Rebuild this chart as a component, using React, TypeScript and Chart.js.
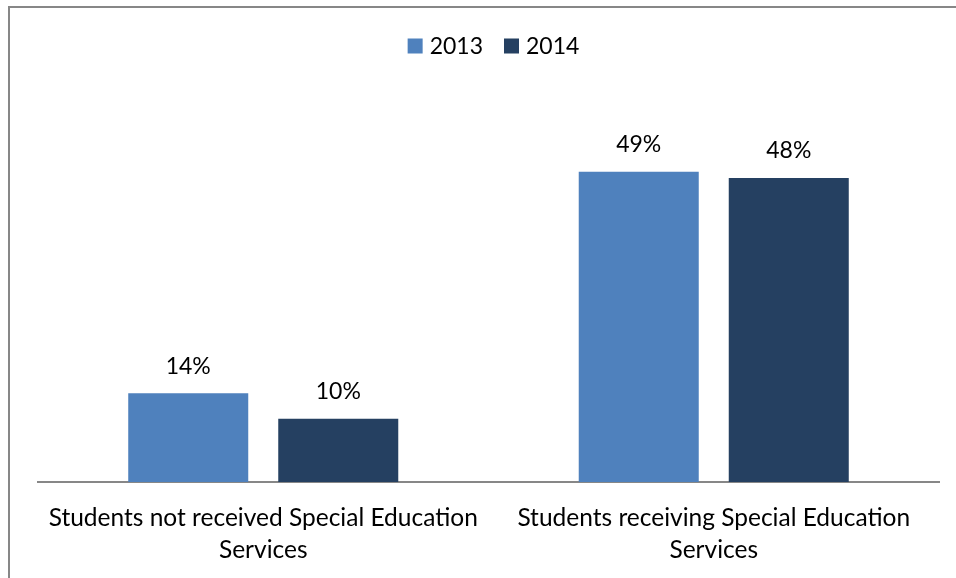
import React, { useEffect, useRef } from "react";
import { Chart, registerables } from "chart.js";

Chart.register(...registerables);

const categories: string[][] = [
  ["Students not received Special Education", "Services"],
  ["Students receiving Special Education", "Services"],
];
const seriesNames = ["2013", "2014"];
const values2013 = [14, 49];
const values2014 = [10, 48];
const colors = ["#4F81BD", "#254061"];

const FONT = "Lato, 'Open Sans', sans-serif";

const labelsPlugin = {
  id: "barLabels",
  afterDatasetsDraw(chart: any) {
    const ctx = chart.ctx;
    ctx.save();
    ctx.fillStyle = "#000";
    ctx.font = `23px ${FONT}`;
    ctx.textAlign = "center";
    ctx.textBaseline = "middle";
    chart.data.datasets.forEach((ds: any, i: number) => {
      const meta = chart.getDatasetMeta(i);
      meta.data.forEach((bar: any, j: number) => {
        ctx.fillText(`${ds.data[j]}%`, bar.x, bar.y - 27);
      });
    });
    ctx.restore();
  },
};

const legendPlugin = {
  id: "customLegend",
  afterDraw(chart: any) {
    const ctx = chart.ctx;
    ctx.save();
    ctx.font = `23px ${FONT}`;
    ctx.textBaseline = "middle";
    ctx.textAlign = "left";
    const box = 15;
    const gap = 7;
    const spacing = 21;
    const widths = seriesNames.map((n) => box + gap + ctx.measureText(n).width);
    const total = widths.reduce((a, b) => a + b, 0) + spacing * (widths.length - 1);
    let x = 493.5 - total / 2;
    const cy = 46;
    seriesNames.forEach((n, i) => {
      ctx.fillStyle = colors[i];
      ctx.fillRect(x, cy - box / 2, box, box);
      ctx.fillStyle = "#000";
      ctx.fillText(n, x + box + gap, cy + 1);
      x += widths[i] + spacing;
    });
    ctx.restore();
  },
};

export default function App() {
  const ref = useRef<HTMLCanvasElement | null>(null);
  useEffect(() => {
    if (!ref.current) return;
    const chart = new Chart(ref.current, {
      type: "bar",
      data: {
        labels: categories as any,
        datasets: [
          { label: seriesNames[0], data: values2013, backgroundColor: colors[0] },
          { label: seriesNames[1], data: values2014, backgroundColor: colors[1] },
        ],
      },
      options: {
        animation: false,
        responsive: false,
        maintainAspectRatio: false,
        layout: { padding: { left: 38, right: 17, top: 102, bottom: 0 } },
        plugins: {
          legend: { display: false },
          tooltip: { enabled: false },
        },
        datasets: {
          bar: { categoryPercentage: 0.666, barPercentage: 0.8 },
        },
        scales: {
          x: {
            grid: { display: false, drawTicks: false },
            border: { display: true, color: "#878787", width: 2 },
            ticks: {
              color: "#000",
              font: { family: FONT, size: 24.5, lineHeight: 1.27 },
              padding: 21,
              maxRotation: 0,
              autoSkip: false,
            },
            afterFit(scale: any) {
              scale.height = 96;
            },
          },
          y: {
            display: false,
            min: 0,
            max: 60,
          },
        },
      },
      plugins: [labelsPlugin, legendPlugin],
    });
    return () => chart.destroy();
  }, []);

  return (
    <div style={{ position: "fixed", left: 0, top: 0, width: 956, height: 578, background: "#fff" }}>
      <canvas ref={ref} width={956} height={578} style={{ position: "absolute", left: 0, top: 0 }} />
      <div
        style={{
          position: "absolute",
          left: 8,
          top: 6,
          width: 2000,
          height: 2000,
          borderLeft: "2px solid #878787",
          borderTop: "2px solid #878787",
          pointerEvents: "none",
        }}
      />
    </div>
  );
}
